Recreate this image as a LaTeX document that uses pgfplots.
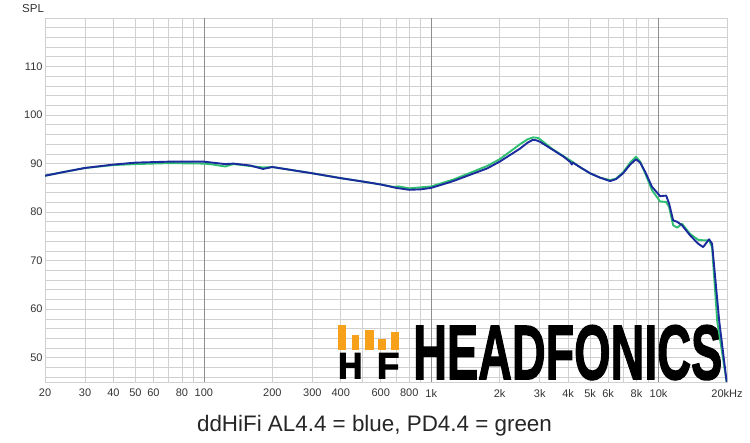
\documentclass[border=0pt]{standalone}
\usepackage{pgfplots}
\pgfplotsset{compat=1.18}
\usepackage{fontspec}
\setmainfont{Liberation Sans}
\newfontfamily\logofont[BoldFeatures={FakeBold=2}]{Liberation Sans}
\newfontfamily\hffont[BoldFeatures={FakeBold=3.5}]{Liberation Sans}
\definecolor{cblue}{HTML}{1B2A9C}
\definecolor{cgreen}{HTML}{2FBF71}
\definecolor{corange}{HTML}{F7A11A}
\definecolor{gridminor}{HTML}{D0D0D0}
\definecolor{gridmajor}{HTML}{8E8E8E}
\definecolor{txt}{HTML}{333333}

\pgfplotstableread{
f v
20 87.5
25 88.4
30 89.1
40 89.8
50 90.2
70 90.4
100 90.4
124 89.9
135 90.0
160 89.6
182 88.9
200 89.3
300 88.0
400 87.0
500 86.3
600 85.7
700 85.0
800 84.6
900 84.7
1000 85.0
1175 86.0
1250 86.4
1760 89.0
2000 90.4
2460 93.1
2650 94.3
2800 94.9
2900 94.8
3010 94.5
3435 92.8
3800 91.5
4100 90.3
4150 89.8
4200 90.2
4500 89.3
5000 88.0
5530 87.1
6120 86.4
6500 86.8
6980 88.0
7500 89.8
7960 90.9
8300 90.2
8730 88.3
9360 85.2
10160 83.3
10800 83.4
11120 81.8
11590 78.3
12070 78.0
12680 77.3
13770 75.2
14930 73.5
15700 72.8
16680 74.4
17190 73.5
18480 57.6
20000 44.5
}\blue

\pgfplotstableread{
f v
20 87.5
25 88.4
30 89.1
40 89.7
50 89.9
70 90.1
100 90.0
110 89.8
124 89.4
135 89.9
182 89.2
200 89.3
300 88.0
400 87.0
500 86.3
600 85.7
680 85.2
720 85.3
800 84.9
1000 85.3
1250 86.7
1760 89.5
2000 90.9
2460 94.0
2650 95.0
2805 95.4
2950 95.3
3010 95.0
3435 92.9
3800 91.6
4165 90.4
4500 89.3
5000 88.0
5530 87.1
6120 86.6
6500 86.9
6980 88.2
7500 90.2
7960 91.4
8300 90.4
8730 88.0
9360 84.5
10160 82.2
10800 82.1
11120 81.1
11590 77.3
12070 76.8
12680 77.6
13770 75.5
14930 74.3
15700 74.2
16680 74.2
17190 72.8
18110 57.6
20000 44.5
}\green

\begin{document}
\begin{tikzpicture}
\path[use as bounding box] (0pt,0pt) rectangle (750pt,-442pt);
\begin{axis}[
  at={(45pt,-18pt)}, anchor=north west,
  scale only axis, width=682pt, height=364pt,
  xmode=log, xmin=20, xmax=20000, ymin=45, ymax=120,
  xtick={20,30,40,50,60,80,100,200,300,400,600,800,1000,2000,3000,4000,5000,6000,8000,10000,20000},
  xticklabels={20,30,40,50,60,80,100,200,300,400,600,800,1k,2k,3k,4k,5k,6k,8k,10k,20kHz},
  minor x tick num=0,
  ytick={50,60,70,80,90,100,110},
  minor y tick num=0,
  major tick length=0pt, minor tick length=0pt,
  axis line style={gridminor, line width=0.8pt},
  tick label style={font=\fontsize{11}{13}\selectfont, text=txt},
  xticklabel style={anchor=north, inner sep=0pt, yshift=-7pt},
  yticklabel style={anchor=east, inner sep=0pt, xshift=-2.3pt},
  /pgf/number format/assume math mode=true,
]
\foreach \yy in {46,48,...,118} {
  \edef\tmp{\noexpand\draw[gridminor, line width=0.7pt] (axis cs:20,\yy) -- (axis cs:20000,\yy);}\tmp
}
\foreach \xx in {30,40,50,60,70,80,90,200,300,400,500,600,700,800,900,2000,3000,4000,5000,6000,7000,8000,9000} {
  \edef\tmp{\noexpand\draw[gridminor, line width=0.7pt] (axis cs:\xx,45) -- (axis cs:\xx,120);}\tmp
}
\foreach \xx in {100,1000,10000} {
  \edef\tmp{\noexpand\draw[gridmajor, line width=0.8pt] (axis cs:\xx,45) -- (axis cs:\xx,120);}\tmp
}
\end{axis}
% logo
\fill[corange] (338.3pt,-324.7pt) rectangle (346.3pt,-349.7pt);
\fill[corange] (351.7pt,-334.7pt) rectangle (359.3pt,-349.7pt);
\fill[corange] (365.3pt,-329.7pt) rectangle (373.7pt,-349.7pt);
\fill[corange] (378.3pt,-338.7pt) rectangle (386.0pt,-349.7pt);
\fill[corange] (391.0pt,-332.0pt) rectangle (399.0pt,-349.7pt);
\node[anchor=north west, inner sep=0pt] at (338pt,-353pt) {\resizebox{24pt}{25pt}{\hffont\bfseries H}};
\node[anchor=north west, inner sep=0pt] at (377pt,-353pt) {\resizebox{22pt}{25pt}{\hffont\bfseries F}};
\node[anchor=north west, inner sep=0pt] at (413pt,-325pt) {\resizebox{309pt}{54pt}{\logofont\bfseries HEADFONICS}};
% curves
\begin{axis}[
  at={(45pt,-18pt)}, anchor=north west,
  scale only axis, width=682pt, height=364pt,
  xmode=log, xmin=20, xmax=20000, ymin=45, ymax=120,
  hide axis,
]
\addplot[cgreen, line width=1.9pt, line join=round] table[x=f, y=v] {\green};
\addplot[cblue, line width=1.9pt, line join=round] table[x=f, y=v] {\blue};
\end{axis}
\node[anchor=base west, inner sep=0pt, text=txt, font=\fontsize{11.5}{13}\selectfont] at (22pt,-12pt) {SPL};
\node[anchor=base, inner sep=0pt, text=black!85, font=\fontsize{22.4}{26}\selectfont] at (374.5pt,-431pt) {ddHiFi AL4.4 = blue, PD4.4 = green};
\end{tikzpicture}
\end{document}
